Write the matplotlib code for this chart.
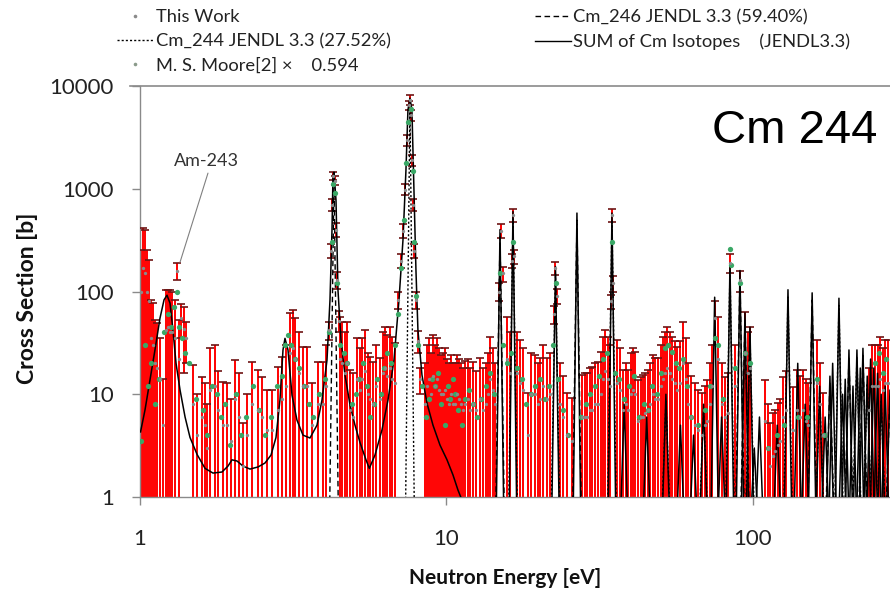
import numpy as np
import matplotlib
matplotlib.use("Agg")
import matplotlib.pyplot as plt
from matplotlib.lines import Line2D
from matplotlib.ticker import FixedLocator, FixedFormatter, NullLocator
from matplotlib.font_manager import FontProperties

plt.rcParams['font.family'] = ['Lato', 'DejaVu Sans']

# ---- This Work: energy [eV], cross section [b], upper end of error bar [b]
work_E_a = [1.008, 1.023, 1.038, 1.054, 1.070, 1.086, 1.103, 1.119, 1.136, 1.162,
            1.189, 1.216, 1.234, 1.253, 1.272, 1.301, 1.320, 1.340, 1.361, 1.392,
            1.413, 1.489, 1.535, 1.594, 1.630, 1.654, 1.692, 1.757, 1.797, 1.866,
            1.922, 1.981, 2.042, 2.104, 2.168, 2.234, 2.320, 2.427, 2.500, 2.596,
            2.696, 2.820, 2.906, 2.994, 3.086, 3.157, 3.204, 3.302, 3.403, 3.507,
            3.641, 3.808, 3.955, 4.045, 4.137, 4.199, 4.231, 4.263, 4.327, 4.360,
            4.393, 4.459]
work_sig_a = [100, 170, 150, 100, 80, 35, 30, 20, 18, 14,
              5, 42, 45, 40, 40, 35, 160, 22, 55, 43,
              35, 8, 4, 6, 5, 3, 11, 12, 7, 5,
              5, 3.5, 9, 6, 2, 4, 8, 7, 6, 4.5,
              4.5, 7, 9, 12, 25, 28, 22, 16, 12, 12,
              5, 8, 8, 12, 42, 250, 700, 1330, 1200, 400,
              130, 52]
work_top_a = [253, 415, 397, 253, 203, 83, 77, 53, 49, 35,
              14, 103, 104, 103, 100, 83, 190, 53, 75, 70,
              50, 19.3, 10, 14.7, 12.9, 8, 28, 30, 17, 13.2,
              12.9, 9, 21.5, 16, 5.2, 10, 20.6, 17.2, 14.7, 11,
              11, 18.4, 23, 30, 62, 66, 55, 40, 29, 29,
              12.9, 20.6, 20.6, 30, 50, 290, 790, 1450, 1320, 460,
              155, 64]

work_E_b = [4.493, 4.561, 4.665, 4.736, 4.844, 4.954, 5.105, 5.221, 5.300, 5.421,
            5.545, 5.627, 5.756, 5.888, 6.067, 6.205, 6.299, 6.395, 6.541, 6.640,
            6.792, 6.947, 7.105, 7.212, 7.320, 7.430, 7.542, 7.599, 7.656, 7.714,
            7.773, 7.832, 7.950, 8.070, 8.192, 8.506, 8.637, 8.768, 8.901, 9.036,
            9.173, 9.311, 9.452, 9.596, 9.741, 9.888]
work_sig_b = [22, 20, 16, 20, 7, 6, 14, 11, 14, 17,
              10, 9, 8, 12, 9, 16, 18, 15, 18, 14,
              13, 83, 200, 390, 980, 2950, 6500, 7300, 5200, 1900,
              700, 250, 83, 33, 14, 8, 12, 14, 10, 15,
              12, 14, 11, 10, 10, 11]
work_top_b = [57, 50, 40, 50, 17.2, 16.1, 35, 28, 35, 42,
              25, 23, 20.6, 30, 22.5, 40, 45, 38, 45, 36,
              31.5, 98, 230, 450, 1100, 3300, 7200, 8100, 5800, 2150,
              790, 290, 98, 41, 18, 20, 30, 35, 25, 38,
              30, 35, 28, 24, 25, 28]

work_E_c = [10.04, 10.19, 10.34, 10.50, 10.66, 10.82, 10.98, 11.15, 11.32, 11.49,
            11.75, 11.93, 12.20, 12.48, 12.86, 13.16, 13.46, 13.66, 13.87, 14.18,
            14.40, 14.84, 15.06, 15.25, 15.76, 16.12, 16.36, 16.48, 16.60, 16.98,
            17.37, 17.77, 18.45, 18.87, 19.44, 19.89, 20.19, 20.65, 21.28, 21.77,
            22.40, 22.68, 22.90, 23.46, 23.99, 24.72, 25.66, 27.68, 28.31, 28.74,
            29.39, 29.83, 30.51, 31.21, 31.92, 32.40, 32.89, 33.64, 34.15, 34.40,
            34.67, 35.00]
work_sig_c = [9, 8, 10, 8, 8, 10, 9, 8, 7, 8,
              9, 7, 8, 7, 9, 7, 8, 10, 14, 11,
              8, 100, 390, 150, 22, 16, 200, 560, 220, 16,
              13, 11, 4, 10, 10, 8, 9, 12, 9, 10,
              60, 170, 90, 8, 6, 4, 3.5, 6, 6, 6,
              7, 7, 8, 8, 10, 14, 17, 14, 12, 80,
              560, 120]
work_top_c = [22, 20, 24, 20, 20, 24, 22, 20, 18, 21,
              22, 18, 20.6, 17, 22.5, 18, 20, 25, 36, 28,
              20, 120, 450, 175, 56, 40, 230, 640, 255, 40,
              33.7, 28, 10.3, 25, 24, 20, 22.5, 30, 22.5, 25,
              72, 195, 105, 20, 15, 10.3, 9.2, 15.4, 16, 16.1,
              18, 18.4, 20, 20.6, 26, 36, 42, 36, 30, 92,
              640, 140]

work_E_d = [36.00, 36.82, 37.66, 38.51, 39.10, 39.99, 40.60, 41.21, 42.15, 43.11,
            43.77, 44.43, 45.44, 46.13, 47.18, 47.89, 48.98, 50.11, 50.86, 51.63,
            52.41, 53.61, 54.42, 55.66, 56.50, 57.79, 59.11, 60.45, 61.37, 62.77,
            64.69, 66.17, 68.18, 69.73, 70.79, 72.41, 73.48, 75.16, 76.89, 79.25,
            81.04, 82.88, 84.14, 87.36, 90.70, 94.17, 96.32, 97.77, 109.4, 111.9,
            113.6, 116.2, 118.0, 120.6, 122.5, 125.3, 128.2, 135.1, 139.2, 142.4,
            145.6, 148.9, 151.2, 161.8, 165.5, 169.2, 240.0, 245.0, 250.0, 255.8,
            259.6, 265.5, 269.6, 275.7]
work_sig_d = [13, 11, 7, 8, 7, 10, 11, 10, 5.5, 6,
              6, 6.5, 7, 8, 10, 9, 9, 12, 14, 16,
              18, 16, 14, 13, 11, 13, 20, 14, 8, 6,
              5, 4.5, 4, 5, 5.5, 8, 12, 55, 22, 8,
              6, 6.5, 190, 12, 130, 25, 16, 18, 5.5, 3,
              2, 2.5, 2.8, 3.2, 3.5, 6, 7, 4.5, 7, 6,
              7, 5.5, 5, 13, 8, 4, 7, 12, 12, 12,
              14, 11, 13, 13]
work_top_d = [33.7, 28, 17.2, 20, 17.2, 25, 28, 26, 13.8, 14.7,
              15.5, 16, 17.2, 20, 24, 22.5, 22.5, 30, 36, 40,
              45, 40, 36, 33, 28.8, 33, 50, 35, 20.1, 15,
              12.9, 11, 10.3, 12, 13.8, 20, 30.2, 80, 56, 20,
              14.7, 16, 230, 30, 160, 63, 40, 45, 13.8, 8,
              5.2, 6.6, 7, 8.2, 9, 14.7, 17, 11.8, 17.2, 15,
              17.2, 14, 12.9, 33.7, 20, 10.3, 18, 30, 30.2, 30,
              36, 28, 33.7, 33.7]

# ---- M. S. Moore (x 0.594)
moore_E = [1.01, 1.04, 1.06, 1.09, 1.12, 1.15, 1.20, 1.23, 1.26, 1.29,
           1.32, 1.34, 1.37, 1.40, 1.45, 1.52, 1.60, 1.66, 1.72, 1.78,
           1.84, 1.90, 1.97, 2.05, 2.13, 2.22, 2.33, 2.44, 2.55, 2.68,
           2.80, 2.90, 2.98, 3.05, 3.12, 3.20, 3.30, 3.42, 3.55, 3.68,
           3.85, 4.00, 4.15, 4.22, 4.26, 4.33, 4.40, 4.50, 4.62, 4.75,
           4.90, 5.05, 5.20, 5.35, 5.50, 5.65, 5.80, 5.95, 6.10, 6.25,
           6.40, 6.60, 6.80, 6.95, 7.10, 7.25, 7.40, 7.50, 7.65, 7.75,
           7.85, 7.95, 8.10, 8.30, 8.60, 8.80, 9.00, 9.20, 9.40, 9.60,
           9.90, 10.1, 10.3, 10.5, 10.7, 10.9, 11.2, 11.5, 11.8, 12.2,
           12.6, 13.0, 13.5, 13.9, 14.3, 14.9, 15.3, 15.8, 16.2, 16.5,
           17.0, 17.6, 18.2, 18.9, 19.5, 20.2, 20.9, 21.6, 22.3, 22.7,
           23.2, 24.0, 25.0, 27.5, 28.5, 29.5, 30.5, 31.5, 32.5, 33.5,
           34.6, 35.5, 36.5, 38.0, 39.5, 41.0, 42.5, 44.0, 45.5, 47.0,
           48.5, 50.0, 51.5, 53.0, 54.5, 56.0, 57.5, 59.0, 61.0, 63.0,
           66.0, 70.0, 72.5, 75.0, 77.0, 80.0, 84.0, 85.0, 87.5, 90.7,
           94.0, 97.5, 112, 120, 126, 140, 150, 162, 170, 250,
           258, 265, 272]
moore_sig = [3.5, 30, 12, 20, 8, 14, 40, 60, 45, 70,
             100, 45, 35, 25, 20, 9, 7, 4, 12, 10,
             6, 8, 3.2, 10, 4, 6, 12, 7, 4, 6,
             12, 15, 30, 38, 30, 22, 18, 12, 8, 6,
             10, 14, 40, 300, 1100, 900, 120, 30, 25, 20,
             8, 10, 14, 20, 12, 6, 8, 14, 10, 18,
             25, 20, 30, 60, 170, 500, 1800, 4500, 6000, 1500,
             300, 90, 30, 12, 6, 9, 14, 12, 16, 8,
             5, 12, 9, 14, 10, 7, 5, 9, 11, 8,
             6, 9, 12, 16, 10, 150, 30, 20, 25, 300,
             18, 14, 8, 10, 12, 14, 9, 12, 30, 120,
             14, 7, 4, 6, 8, 10, 12, 15, 22, 25,
             300, 16, 14, 9, 12, 15, 6, 8, 7, 12,
             10, 16, 28, 30, 26, 20, 18, 22, 12, 6,
             5, 7, 12, 35, 30, 9, 260, 180, 18, 120,
             25, 20, 3, 4, 5, 6, 6, 14, 4, 20,
             25, 16, 22]

# ---- JENDL-3.3 sum of Cm isotopes, low-energy curve
sum_E = [1.004, 1.038, 1.078, 1.119, 1.162, 1.198, 1.225, 1.253, 1.281, 1.311,
         1.351, 1.403, 1.456, 1.535, 1.630, 1.730, 1.851, 1.937, 1.996, 2.073,
         2.168, 2.285, 2.427, 2.557, 2.676, 2.778, 2.862, 2.928, 2.972, 3.040,
         3.133, 3.252, 3.403, 3.586, 3.780, 3.925, 4.075, 4.168, 4.231, 4.263,
         4.295, 4.360, 4.426, 4.527, 4.665, 4.844, 5.029, 5.221, 5.463, 5.600,
         5.844, 6.160, 6.445, 6.740, 7.000, 7.212, 7.375, 7.486, 7.599, 7.714,
         7.832, 7.950, 8.070, 8.318, 8.637, 9.036, 9.524, 10.04, 10.50, 10.90,
         11.24]
sum_sig = [4.3, 7.0, 13.8, 27, 55, 83, 92, 77, 42, 20,
           11, 6.0, 3.8, 2.6, 1.9, 1.71, 1.75, 2.0, 2.3, 2.24,
           2.0, 1.87, 1.96, 2.14, 2.56, 3.8, 8.8, 27, 35, 27,
           9.8, 5.6, 4.0, 3.75, 5.0, 8.8, 21.5, 83, 397, 1350,
           1450, 777, 103, 33.7, 15.4, 7.9, 5.0, 3.4, 2.3, 1.9,
           2.56, 4.5, 8.8, 21.5, 83, 317, 1520, 5840, 7640, 5840,
           973, 162, 42, 15.4, 8.2, 5.0, 3.2, 2.3, 1.64, 1.17,
           0.93]

# ---- JENDL-3.3 sum, resonance peaks above 14 eV
peak_E = [14.95, 16.48, 22.68, 26.65, 34.67, 38.0, 45.0, 52.0, 58.0, 64.0,
          69.0, 75.0, 79.0, 84.14, 90.7, 94.17, 97.77, 101.0, 105.0, 120.0,
          130.1, 140.0, 148.0, 156.0, 165.0, 172.0, 178.3, 182.0, 190.8, 196.0,
          200.0, 205.7, 212.0, 218.4, 224.0, 228.5, 236.0, 242.0, 248.0, 255.0,
          262.0, 270.0, 279.9]
peak_H = [400, 600, 175, 580, 580, 8, 6, 10, 5, 4,
          8, 88, 6, 190, 160, 62, 45, 3, 6, 5,
          104, 20, 8, 97, 12, 6, 15, 20, 86, 10,
          14, 27, 12, 27, 18, 28, 15, 22, 18, 16,
          10, 12, 11]

# ---- individual isotopes (weighted)
cm244_E = [7.599, 16.48, 22.68, 34.67, 52.0, 69.0, 84.14, 97.77, 130.1, 165.0,
           190.8, 218.4, 236.0, 262.0]
cm244_H = [7640, 600, 175, 580, 10, 8, 190, 45, 104, 12,
           86, 27, 15, 10]
cm246_E = [4.295, 14.95, 26.65, 90.7, 94.17, 156.0, 178.3, 205.7, 228.5, 279.9]
cm246_H = [1450, 400, 580, 160, 62, 97, 15, 27, 28, 11]

x_ticks = [1, 10, 100]
x_ticklabels = ['1', '10', '100']
y_ticks = [1, 10, 100, 1000, 10000]
y_ticklabels = ['1', '10', '100', '1000', '10000']

W, H = 890, 593
fig = plt.figure(figsize=(W / 100, H / 100), dpi=100)
ax = fig.add_axes([140 / W, 96 / H, 750 / W, 411 / H])
ax.set_xscale('log')
ax.set_yscale('log')
ax.set_xlim(1, 280)
ax.set_ylim(1, 10000)

# measured data with error bars
wE = np.array(work_E_a + work_E_b + work_E_c + work_E_d)
wS = np.array(work_sig_a + work_sig_b + work_sig_c + work_sig_d, dtype=float)
wT = np.array(work_top_a + work_top_b + work_top_c + work_top_d, dtype=float)
err = wT - wS
low = wS - err
low_draw = np.maximum(low, 0.1)
ax.errorbar(wE, wS, yerr=[wS - low_draw, err], fmt='none', ecolor='#ff0000',
            elinewidth=1.4, capsize=0, zorder=2)
ax.plot(wE, wT, ls='none', marker='_', ms=6, mew=1.2, color='#6e1414', zorder=3)
vis = low > 1
ax.plot(wE[vis], low[vis], ls='none', marker='_', ms=6, mew=1.2, color='#6e1414', zorder=3)

# evaluated curves
ax.plot(sum_E, sum_sig, color='black', lw=1.1, zorder=4)
for e, h in zip(peak_E, peak_H):
    ax.plot([e / 1.03, e, e * 1.03], [0.5, h, 0.5], color='black', lw=1.1, zorder=4)
for e, h in zip(cm244_E, cm244_H):
    ax.plot([e / 1.035, e, e * 1.035], [0.5, h * 0.85, 0.5], color='black', lw=1.0,
            ls=(0, (1.5, 1.5)), zorder=4)
for e, h in zip(cm246_E, cm246_H):
    ax.plot([e / 1.035, e, e * 1.035], [0.5, h * 0.85, 0.5], color='black', lw=1.0,
            ls=(0, (4, 2.5)), zorder=4)

ax.plot(moore_E, moore_sig, ls='none', marker='o', ms=3.8, color='#3aa866', mec='none', zorder=5)
ax.plot(wE, wS, ls='none', marker='o', ms=2.4, color='#8a8a8a', mec='none', zorder=6)

# axes styling
for side in ('top', 'right'):
    ax.spines[side].set_visible(False)
for side in ('left', 'bottom'):
    ax.spines[side].set_color('#8a8a8a')
    ax.spines[side].set_linewidth(1.0)
fig.add_artist(Line2D([130 / W, 1.0], [1 - 86 / H, 1 - 86 / H], color='#8a8a8a', lw=1.2))

ax.xaxis.set_major_locator(FixedLocator(x_ticks))
ax.xaxis.set_major_formatter(FixedFormatter(x_ticklabels))
ax.yaxis.set_major_locator(FixedLocator(y_ticks))
ax.yaxis.set_major_formatter(FixedFormatter(y_ticklabels))
ax.xaxis.set_minor_locator(NullLocator())
ax.yaxis.set_minor_locator(NullLocator())
ax.tick_params(axis='both', direction='out', length=6, width=1, color='#8a8a8a',
               labelsize=16, labelcolor='#222222')
ax.tick_params(axis='x', pad=17)
ax.tick_params(axis='y', pad=13)

fig.text(28 / W, 1 - 298 / H, 'Cross Section [b]', rotation=90, ha='center', va='center',
         fontsize=16.5, fontweight='bold', color='#111111')
fig.text(505 / W, 1 - 578 / H, 'Neutron Energy [eV]', ha='center', va='center',
         fontsize=15, fontweight='bold', color='#111111')
fig.text(712 / W, 1 - 131 / H, 'Cm 244', ha='left', va='center', fontsize=34,
         family='Liberation Sans', color='black')

ax.annotate('Am-243', xy=(1.351, 193), xytext=(1.642, 1862), ha='center', va='center',
            fontsize=13, color='#333333',
            arrowprops=dict(arrowstyle='-', color='#808080', lw=0.8, shrinkA=1, shrinkB=0,
                            relpos=(0.55, 0.0)))

# legends
lp = FontProperties(family='Lato', size=13.2)
h_work = Line2D([], [], ls='none', marker='o', ms=2.6, color='#8a8a8a', mec='none')
h_244 = Line2D([], [], color='black', lw=1.0, ls=(0, (1.5, 1.5)))
h_moore = Line2D([], [], ls='none', marker='o', ms=2.6, color='#8a9a8a', mec='none')
h_246 = Line2D([], [], color='black', lw=1.0, ls=(0, (4, 2.5)))
h_sum = Line2D([], [], color='black', lw=1.0)
leg1 = fig.legend([h_work, h_244, h_moore],
                  ['This Work', 'Cm_244 JENDL 3.3 (27.52%)', 'M. S. Moore[2] \u00d7    0.594'],
                  loc='upper left', bbox_to_anchor=(117 / W, 1 - 9 / H), frameon=False,
                  prop=lp, handlelength=1.95, handletextpad=0.2, labelspacing=0.45,
                  borderpad=0, borderaxespad=0, labelcolor='#222222')
leg2 = fig.legend([h_246, h_sum],
                  ['Cm_246 JENDL 3.3 (59.40%)', 'SUM of Cm Isotopes    (JENDL3.3)'],
                  loc='upper left', bbox_to_anchor=(535 / W, 1 - 9 / H), frameon=False,
                  prop=lp, handlelength=1.95, handletextpad=0.1, labelspacing=0.45,
                  borderpad=0, borderaxespad=0, labelcolor='#222222')

fig.savefig('out.png', dpi=100)
